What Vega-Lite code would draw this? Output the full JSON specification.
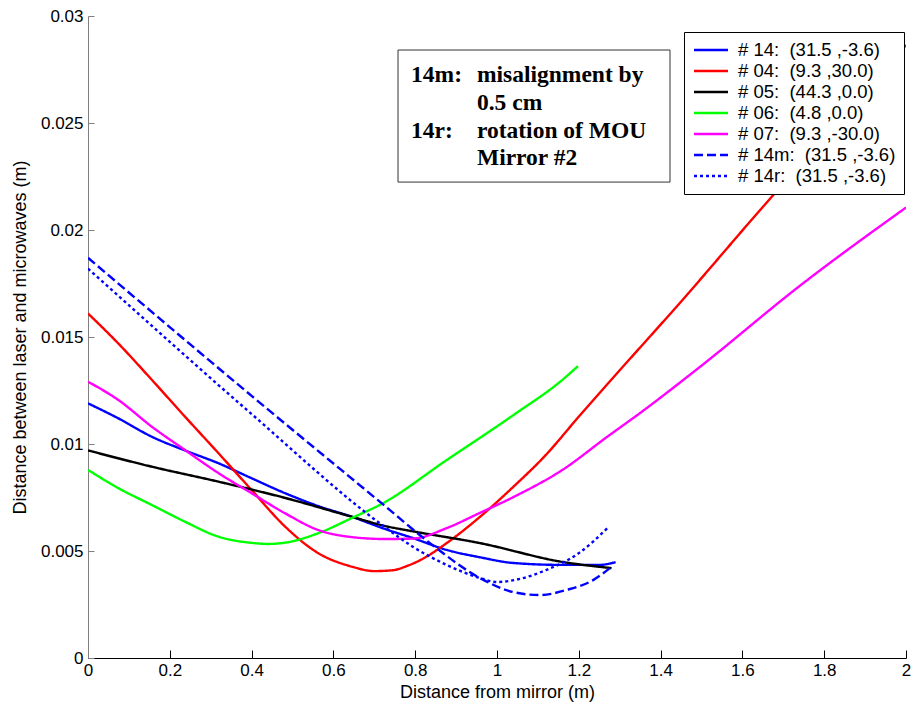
{
  "$schema": "https://vega.github.io/schema/vega-lite/v6.json",
  "autosize": {"type": "none"},
  "padding": {"left": 88, "top": 16, "right": 7, "bottom": 55},
  "width": 818,
  "height": 642,
  "background": "white",
  "config": {
    "view": {"stroke": null},
    "font": "Liberation Sans",
    "axis": {"grid": false, "labelFont": "Liberation Sans", "labelFontSize": 17, "labelColor": "black", "titleFont": "Liberation Sans", "titleFontSize": 18, "titleFontWeight": "normal", "titleColor": "black"}
  },
  "data": {"values": [
    {"s": "# 14:\u00a0\u00a0(31.5 ,-3.6)", "x": 0, "y": 0.0119},
    {"s": "# 14:\u00a0\u00a0(31.5 ,-3.6)", "x": 0.074, "y": 0.0112},
    {"s": "# 14:\u00a0\u00a0(31.5 ,-3.6)", "x": 0.156, "y": 0.01034},
    {"s": "# 14:\u00a0\u00a0(31.5 ,-3.6)", "x": 0.237, "y": 0.0097},
    {"s": "# 14:\u00a0\u00a0(31.5 ,-3.6)", "x": 0.319, "y": 0.0091},
    {"s": "# 14:\u00a0\u00a0(31.5 ,-3.6)", "x": 0.4, "y": 0.0084},
    {"s": "# 14:\u00a0\u00a0(31.5 ,-3.6)", "x": 0.482, "y": 0.0077},
    {"s": "# 14:\u00a0\u00a0(31.5 ,-3.6)", "x": 0.563, "y": 0.0071},
    {"s": "# 14:\u00a0\u00a0(31.5 ,-3.6)", "x": 0.645, "y": 0.0066},
    {"s": "# 14:\u00a0\u00a0(31.5 ,-3.6)", "x": 0.726, "y": 0.00603},
    {"s": "# 14:\u00a0\u00a0(31.5 ,-3.6)", "x": 0.795, "y": 0.0056},
    {"s": "# 14:\u00a0\u00a0(31.5 ,-3.6)", "x": 0.877, "y": 0.00505},
    {"s": "# 14:\u00a0\u00a0(31.5 ,-3.6)", "x": 0.96, "y": 0.0047},
    {"s": "# 14:\u00a0\u00a0(31.5 ,-3.6)", "x": 1.04, "y": 0.00444},
    {"s": "# 14:\u00a0\u00a0(31.5 ,-3.6)", "x": 1.16, "y": 0.00435},
    {"s": "# 14:\u00a0\u00a0(31.5 ,-3.6)", "x": 1.25, "y": 0.00435},
    {"s": "# 14:\u00a0\u00a0(31.5 ,-3.6)", "x": 1.29, "y": 0.00448},

    {"s": "# 04:\u00a0\u00a0(9.3 ,30.0)", "x": 0, "y": 0.0161},
    {"s": "# 04:\u00a0\u00a0(9.3 ,30.0)", "x": 0.074, "y": 0.0147},
    {"s": "# 04:\u00a0\u00a0(9.3 ,30.0)", "x": 0.156, "y": 0.013},
    {"s": "# 04:\u00a0\u00a0(9.3 ,30.0)", "x": 0.237, "y": 0.01128},
    {"s": "# 04:\u00a0\u00a0(9.3 ,30.0)", "x": 0.319, "y": 0.00957},
    {"s": "# 04:\u00a0\u00a0(9.3 ,30.0)", "x": 0.4, "y": 0.00785},
    {"s": "# 04:\u00a0\u00a0(9.3 ,30.0)", "x": 0.482, "y": 0.00614},
    {"s": "# 04:\u00a0\u00a0(9.3 ,30.0)", "x": 0.563, "y": 0.0049},
    {"s": "# 04:\u00a0\u00a0(9.3 ,30.0)", "x": 0.645, "y": 0.00427},
    {"s": "# 04:\u00a0\u00a0(9.3 ,30.0)", "x": 0.7, "y": 0.00406},
    {"s": "# 04:\u00a0\u00a0(9.3 ,30.0)", "x": 0.745, "y": 0.0041},
    {"s": "# 04:\u00a0\u00a0(9.3 ,30.0)", "x": 0.78, "y": 0.0043},
    {"s": "# 04:\u00a0\u00a0(9.3 ,30.0)", "x": 0.815, "y": 0.0046},
    {"s": "# 04:\u00a0\u00a0(9.3 ,30.0)", "x": 0.877, "y": 0.00537},
    {"s": "# 04:\u00a0\u00a0(9.3 ,30.0)", "x": 0.958, "y": 0.00659},
    {"s": "# 04:\u00a0\u00a0(9.3 ,30.0)", "x": 1.04, "y": 0.008},
    {"s": "# 04:\u00a0\u00a0(9.3 ,30.0)", "x": 1.12, "y": 0.0095},
    {"s": "# 04:\u00a0\u00a0(9.3 ,30.0)", "x": 1.2, "y": 0.01128},
    {"s": "# 04:\u00a0\u00a0(9.3 ,30.0)", "x": 1.27, "y": 0.0128},
    {"s": "# 04:\u00a0\u00a0(9.3 ,30.0)", "x": 1.447, "y": 0.01659},
    {"s": "# 04:\u00a0\u00a0(9.3 ,30.0)", "x": 1.68, "y": 0.02173},
    {"s": "# 04:\u00a0\u00a0(9.3 ,30.0)", "x": 1.85, "y": 0.0253},
    {"s": "# 04:\u00a0\u00a0(9.3 ,30.0)", "x": 2.0, "y": 0.02864},

    {"s": "# 05:\u00a0\u00a0(44.3 ,0.0)", "x": 0, "y": 0.0097},
    {"s": "# 05:\u00a0\u00a0(44.3 ,0.0)", "x": 0.156, "y": 0.00894},
    {"s": "# 05:\u00a0\u00a0(44.3 ,0.0)", "x": 0.319, "y": 0.00824},
    {"s": "# 05:\u00a0\u00a0(44.3 ,0.0)", "x": 0.482, "y": 0.00748},
    {"s": "# 05:\u00a0\u00a0(44.3 ,0.0)", "x": 0.645, "y": 0.0066},
    {"s": "# 05:\u00a0\u00a0(44.3 ,0.0)", "x": 0.726, "y": 0.00617},
    {"s": "# 05:\u00a0\u00a0(44.3 ,0.0)", "x": 0.8, "y": 0.0059},
    {"s": "# 05:\u00a0\u00a0(44.3 ,0.0)", "x": 0.958, "y": 0.00537},
    {"s": "# 05:\u00a0\u00a0(44.3 ,0.0)", "x": 1.16, "y": 0.00449},
    {"s": "# 05:\u00a0\u00a0(44.3 ,0.0)", "x": 1.28, "y": 0.0042},

    {"s": "# 06:\u00a0\u00a0(4.8 ,0.0)", "x": 0, "y": 0.00879},
    {"s": "# 06:\u00a0\u00a0(4.8 ,0.0)", "x": 0.074, "y": 0.00794},
    {"s": "# 06:\u00a0\u00a0(4.8 ,0.0)", "x": 0.156, "y": 0.00715},
    {"s": "# 06:\u00a0\u00a0(4.8 ,0.0)", "x": 0.237, "y": 0.00637},
    {"s": "# 06:\u00a0\u00a0(4.8 ,0.0)", "x": 0.319, "y": 0.00567},
    {"s": "# 06:\u00a0\u00a0(4.8 ,0.0)", "x": 0.4, "y": 0.00538},
    {"s": "# 06:\u00a0\u00a0(4.8 ,0.0)", "x": 0.441, "y": 0.00533},
    {"s": "# 06:\u00a0\u00a0(4.8 ,0.0)", "x": 0.482, "y": 0.00539},
    {"s": "# 06:\u00a0\u00a0(4.8 ,0.0)", "x": 0.563, "y": 0.00583},
    {"s": "# 06:\u00a0\u00a0(4.8 ,0.0)", "x": 0.645, "y": 0.00654},
    {"s": "# 06:\u00a0\u00a0(4.8 ,0.0)", "x": 0.718, "y": 0.0072},
    {"s": "# 06:\u00a0\u00a0(4.8 ,0.0)", "x": 0.877, "y": 0.00925},
    {"s": "# 06:\u00a0\u00a0(4.8 ,0.0)", "x": 1.04, "y": 0.01135},
    {"s": "# 06:\u00a0\u00a0(4.8 ,0.0)", "x": 1.16, "y": 0.013},
    {"s": "# 06:\u00a0\u00a0(4.8 ,0.0)", "x": 1.198, "y": 0.01364},

    {"s": "# 07:\u00a0\u00a0(9.3 ,-30.0)", "x": 0, "y": 0.01291},
    {"s": "# 07:\u00a0\u00a0(9.3 ,-30.0)", "x": 0.074, "y": 0.01206},
    {"s": "# 07:\u00a0\u00a0(9.3 ,-30.0)", "x": 0.156, "y": 0.01081},
    {"s": "# 07:\u00a0\u00a0(9.3 ,-30.0)", "x": 0.237, "y": 0.00972},
    {"s": "# 07:\u00a0\u00a0(9.3 ,-30.0)", "x": 0.319, "y": 0.00864},
    {"s": "# 07:\u00a0\u00a0(9.3 ,-30.0)", "x": 0.4, "y": 0.0077},
    {"s": "# 07:\u00a0\u00a0(9.3 ,-30.0)", "x": 0.482, "y": 0.00676},
    {"s": "# 07:\u00a0\u00a0(9.3 ,-30.0)", "x": 0.563, "y": 0.00598},
    {"s": "# 07:\u00a0\u00a0(9.3 ,-30.0)", "x": 0.645, "y": 0.00565},
    {"s": "# 07:\u00a0\u00a0(9.3 ,-30.0)", "x": 0.726, "y": 0.00556},
    {"s": "# 07:\u00a0\u00a0(9.3 ,-30.0)", "x": 0.795, "y": 0.00558},
    {"s": "# 07:\u00a0\u00a0(9.3 ,-30.0)", "x": 0.877, "y": 0.00607},
    {"s": "# 07:\u00a0\u00a0(9.3 ,-30.0)", "x": 0.958, "y": 0.00678},
    {"s": "# 07:\u00a0\u00a0(9.3 ,-30.0)", "x": 1.04, "y": 0.00752},
    {"s": "# 07:\u00a0\u00a0(9.3 ,-30.0)", "x": 1.16, "y": 0.00879},
    {"s": "# 07:\u00a0\u00a0(9.3 ,-30.0)", "x": 1.269, "y": 0.01033},
    {"s": "# 07:\u00a0\u00a0(9.3 ,-30.0)", "x": 1.35, "y": 0.01145},
    {"s": "# 07:\u00a0\u00a0(9.3 ,-30.0)", "x": 1.496, "y": 0.0136},
    {"s": "# 07:\u00a0\u00a0(9.3 ,-30.0)", "x": 1.741, "y": 0.0174},
    {"s": "# 07:\u00a0\u00a0(9.3 ,-30.0)", "x": 2.0, "y": 0.02105},

    {"s": "# 14m:\u00a0\u00a0(31.5 ,-3.6)", "x": 0, "y": 0.0187},
    {"s": "# 14m:\u00a0\u00a0(31.5 ,-3.6)", "x": 0.4, "y": 0.01225},
    {"s": "# 14m:\u00a0\u00a0(31.5 ,-3.6)", "x": 0.72, "y": 0.0072},
    {"s": "# 14m:\u00a0\u00a0(31.5 ,-3.6)", "x": 0.836, "y": 0.00537},
    {"s": "# 14m:\u00a0\u00a0(31.5 ,-3.6)", "x": 0.958, "y": 0.00374},
    {"s": "# 14m:\u00a0\u00a0(31.5 ,-3.6)", "x": 1.04, "y": 0.00308},
    {"s": "# 14m:\u00a0\u00a0(31.5 ,-3.6)", "x": 1.105, "y": 0.00294},
    {"s": "# 14m:\u00a0\u00a0(31.5 ,-3.6)", "x": 1.17, "y": 0.00318},
    {"s": "# 14m:\u00a0\u00a0(31.5 ,-3.6)", "x": 1.235, "y": 0.00364},
    {"s": "# 14m:\u00a0\u00a0(31.5 ,-3.6)", "x": 1.276, "y": 0.0042},

    {"s": "# 14r:\u00a0\u00a0(31.5 ,-3.6)", "x": 0, "y": 0.0182},
    {"s": "# 14r:\u00a0\u00a0(31.5 ,-3.6)", "x": 0.4, "y": 0.0114},
    {"s": "# 14r:\u00a0\u00a0(31.5 ,-3.6)", "x": 0.72, "y": 0.0062},
    {"s": "# 14r:\u00a0\u00a0(31.5 ,-3.6)", "x": 0.795, "y": 0.00519},
    {"s": "# 14r:\u00a0\u00a0(31.5 ,-3.6)", "x": 0.877, "y": 0.00435},
    {"s": "# 14r:\u00a0\u00a0(31.5 ,-3.6)", "x": 0.958, "y": 0.00374},
    {"s": "# 14r:\u00a0\u00a0(31.5 ,-3.6)", "x": 1.0, "y": 0.00355},
    {"s": "# 14r:\u00a0\u00a0(31.5 ,-3.6)", "x": 1.056, "y": 0.0037},
    {"s": "# 14r:\u00a0\u00a0(31.5 ,-3.6)", "x": 1.12, "y": 0.00411},
    {"s": "# 14r:\u00a0\u00a0(31.5 ,-3.6)", "x": 1.2, "y": 0.0049},
    {"s": "# 14r:\u00a0\u00a0(31.5 ,-3.6)", "x": 1.27, "y": 0.00607}
  ]},
  "layer": [
    {
      "mark": {"type": "line", "clip": true, "interpolate": "monotone"},
      "encoding": {
        "x": {"field": "x", "type": "quantitative", "scale": {"domain": [0, 2], "nice": false},
          "axis": {"values": [0, 0.2, 0.4, 0.6, 0.8, 1, 1.2, 1.4, 1.6, 1.8, 2], "format": "~g", "title": "Distance from mirror (m)",
            "domainColor": "black", "tickColor": "black", "tickSize": -8, "labelPadding": 12, "titlePadding": 5, "labelFlush": false}},
        "y": {"field": "y", "type": "quantitative", "scale": {"domain": [0, 0.03], "nice": false},
          "axis": {"values": [0, 0.005, 0.01, 0.015, 0.02, 0.025, 0.03], "format": "~g", "title": "Distance between laser and microwaves (m)",
            "domainColor": "#808080", "tickColor": "#808080", "tickSize": -6, "labelPadding": 11, "titlePadding": 11}},
        "color": {"field": "s", "type": "nominal",
          "scale": {"domain": ["# 14:\u00a0\u00a0(31.5 ,-3.6)", "# 04:\u00a0\u00a0(9.3 ,30.0)", "# 05:\u00a0\u00a0(44.3 ,0.0)", "# 06:\u00a0\u00a0(4.8 ,0.0)", "# 07:\u00a0\u00a0(9.3 ,-30.0)", "# 14m:\u00a0\u00a0(31.5 ,-3.6)", "# 14r:\u00a0\u00a0(31.5 ,-3.6)"],
            "range": ["#0000ff", "#ff0000", "#000000", "#00ff00", "#ff00ff", "#0000ff", "#0000ff"]},
          "legend": {"orient": "none", "legendX": 596, "legendY": 16, "title": null,
            "symbolType": "M-2,0H2", "symbolSize": 289, "symbolStrokeWidth": 3, "symbolOffset": 9,
            "labelFont": "Liberation Sans", "labelFontSize": 18.5, "labelColor": "black", "labelLimit": 400, "labelOffset": 17,
            "padding": 8, "strokeColor": "black", "fillColor": "white", "rowPadding": 1}},
        "strokeDash": {"field": "s", "type": "nominal",
          "scale": {"domain": ["# 14:\u00a0\u00a0(31.5 ,-3.6)", "# 04:\u00a0\u00a0(9.3 ,30.0)", "# 05:\u00a0\u00a0(44.3 ,0.0)", "# 06:\u00a0\u00a0(4.8 ,0.0)", "# 07:\u00a0\u00a0(9.3 ,-30.0)", "# 14m:\u00a0\u00a0(31.5 ,-3.6)", "# 14r:\u00a0\u00a0(31.5 ,-3.6)"],
            "range": [[1, 0], [1, 0], [1, 0], [1, 0], [1, 0], [9, 4], [3, 3]]},
          "legend": {"orient": "none", "legendX": 596, "legendY": 16, "title": null,
            "symbolType": "M-2,0H2", "symbolSize": 289, "symbolStrokeWidth": 3, "symbolOffset": 9,
            "labelFont": "Liberation Sans", "labelFontSize": 18.5, "labelColor": "black", "labelLimit": 400, "labelOffset": 17,
            "padding": 8, "strokeColor": "black", "fillColor": "white", "rowPadding": 1}},
        "strokeWidth": {"field": "s", "type": "nominal", "legend": null,
          "scale": {"domain": ["# 14:\u00a0\u00a0(31.5 ,-3.6)", "# 04:\u00a0\u00a0(9.3 ,30.0)", "# 05:\u00a0\u00a0(44.3 ,0.0)", "# 06:\u00a0\u00a0(4.8 ,0.0)", "# 07:\u00a0\u00a0(9.3 ,-30.0)", "# 14m:\u00a0\u00a0(31.5 ,-3.6)", "# 14r:\u00a0\u00a0(31.5 ,-3.6)"],
            "range": [2.4, 2.4, 2.4, 2.4, 2.4, 3.4, 3.4]}}
      }
    },
    {
      "data": {"values": [{}]},
      "mark": {"type": "rect", "fill": "white", "stroke": "#333333", "strokeWidth": 1},
      "encoding": {"x": {"datum": 0.758}, "x2": {"datum": 1.423}, "y": {"datum": 0.02841}, "y2": {"datum": 0.02224}}
    },
    {
      "data": {"values": [{}]},
      "mark": {"type": "text", "font": "Liberation Serif", "fontWeight": "bold", "fontSize": 23.5, "align": "left", "baseline": "alphabetic", "color": "black", "text": "14m:"},
      "encoding": {"x": {"datum": 0.79}, "y": {"datum": 0.0269}}
    },
    {
      "data": {"values": [{}]},
      "mark": {"type": "text", "font": "Liberation Serif", "fontWeight": "bold", "fontSize": 23.5, "align": "left", "baseline": "alphabetic", "color": "black", "text": "14r:"},
      "encoding": {"x": {"datum": 0.79}, "y": {"datum": 0.02431}}
    },
    {
      "data": {"values": [{}]},
      "mark": {"type": "text", "font": "Liberation Serif", "fontWeight": "bold", "fontSize": 23.5, "align": "left", "baseline": "alphabetic", "lineHeight": 27.7, "color": "black",
        "text": ["misalignment by", "0.5 cm", "rotation of MOU", "Mirror #2"]},
      "encoding": {"x": {"datum": 0.951}, "y": {"datum": 0.0269}}
    }
  ]
}
